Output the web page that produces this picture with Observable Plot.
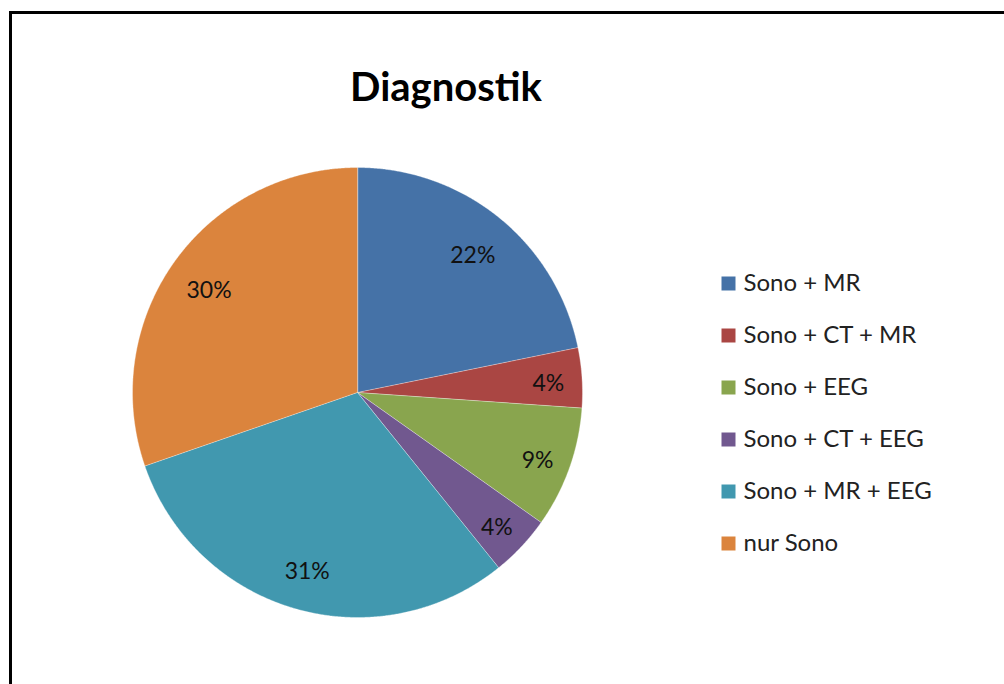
<!DOCTYPE html>
<html>
<head>
<meta charset="utf-8">
<script src="https://cdn.jsdelivr.net/npm/d3@7"></script>
<script src="https://cdn.jsdelivr.net/npm/@observablehq/plot@0.6"></script>
<style>
  html, body { margin: 0; padding: 0; background: #fff; overflow: hidden; }
  #page { position: relative; width: 1004px; height: 684px; overflow: hidden; font-family: Lato, "Open Sans", sans-serif; }
  #frame { position: absolute; left: 9px; top: 11px; width: 1000px; height: 700px; border-left: 3px solid #000; border-top: 3px solid #000; }
  #title { position: absolute; left: 0; top: 66px; width: 892px; text-align: center; font-size: 40px; line-height: 1; font-weight: 700; color: #000; }
  #pie { position: absolute; left: 0; top: 0; }
  #legend { position: absolute; left: 714px; top: 250px; }
</style>
</head>
<body>
<div id="page">
  <div id="frame"></div>
  <div id="pie"></div>
  <div id="title">Diagnostik</div>
  <div id="legend"></div>
</div>
<script>
const categories = ["Sono + MR", "Sono + CT + MR", "Sono + EEG", "Sono + CT + EEG", "Sono + MR + EEG", "nur Sono"];
const values = [21.8, 4.3, 8.7, 4.4, 30.5, 30.3];
const labels = ["22%", "4%", "9%", "4%", "31%", "30%"];
const colors = ["#4572A7", "#AA4643", "#89A54E", "#71588F", "#4198AF", "#DB843D"];

const arcs = d3.pie().sort(null).value(d => d)(values);

// polygon outline of each slice, derived from the pie angles
const slicePts = arcs.flatMap(a => {
  const k = categories[a.index];
  const n = Math.max(4, Math.ceil((a.endAngle - a.startAngle) / 0.005));
  const out = [{k, x: 0, y: 0}];
  for (let j = 0; j <= n; j++) {
    const t = a.startAngle + (a.endAngle - a.startAngle) * j / n;
    out.push({k, x: Math.sin(t), y: Math.cos(t)});
  }
  return out;
});
const mid = a => (a.startAngle + a.endAngle) / 2;
// narrow slices get their label pushed a little further out (Excel "best fit")
const labelR = a => (a.endAngle - a.startAngle) < 0.7 ? 0.85 : 0.81;

const pie = Plot.plot({
  width: 1004,
  height: 684,
  margin: 0,
  style: {fontFamily: "Lato, 'Open Sans', sans-serif", background: "transparent"},
  x: {domain: [-1, 1], range: [132, 582], axis: null},
  y: {domain: [-1, 1], range: [617, 167], axis: null},
  color: {domain: categories, range: colors},
  marks: [
    Plot.line(slicePts, {x: "x", y: "y", z: "k", fill: "k", stroke: "#fff", strokeWidth: 0.5, strokeOpacity: 0.7, curve: "linear-closed"}),
    Plot.text(arcs, {
      x: a => labelR(a) * Math.sin(mid(a)),
      y: a => labelR(a) * Math.cos(mid(a)),
      text: a => labels[a.index],
      fontSize: 23,
      dy: 4,
      fill: "#111",
      textAnchor: "middle"
    })
  ]
});
document.getElementById("pie").appendChild(pie);

const legend = Plot.plot({
  width: 290,
  height: 320,
  margin: 0,
  style: {fontFamily: "Lato, 'Open Sans', sans-serif", background: "transparent"},
  y: {type: "point", domain: categories, range: [32, 293], padding: 0, axis: null},
  color: {domain: categories, range: colors},
  marks: [
    Plot.dot(categories, {y: d => d, frameAnchor: "left", dx: 14, symbol: "square", r: 7.9, fill: d => d, stroke: null}),
    Plot.text(categories, {y: d => d, text: d => d, frameAnchor: "left", dx: 29, textAnchor: "start", fontSize: 24, fill: "#222"})
  ]
});
document.getElementById("legend").appendChild(legend);
</script>
</body>
</html>
